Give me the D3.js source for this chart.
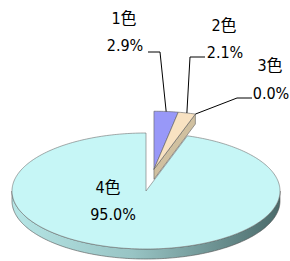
<!DOCTYPE html>
<html><head><meta charset="utf-8">
<script src="https://cdn.jsdelivr.net/npm/d3@7"></script>
<style>html,body{margin:0;padding:0;background:#fff;}svg{display:block;}</style>
</head><body>
<svg id="c" width="290" height="261"></svg>
<script>
const categories = ["1色", "2色", "3色", "4色"];
const values = [2.9, 2.1, 0.0, 95.0];
const valueLabels = ["2.9%", "2.1%", "0.0%", "95.0%"];
const exploded = [true, true, true, false];

const colors = ["#9898f8", "#f8e2c2", "#d0c0a0", "#c6f6f6"];
const svg = d3.select("#c");
const cx = 146, cy = 191, rx = 134, ry = 58, depth = 10, explode = 0.38;

const pie = d3.pie().sort(null).startAngle(0).endAngle(2 * Math.PI).value(d => d);
const arcs = pie(values);

const exAngles = arcs.filter((a, i) => exploded[i]);
const exMid = (exAngles[0].startAngle + exAngles[exAngles.length - 1].endAngle) / 2;
const ecx = cx + explode * rx * Math.sin(exMid);
const ecy = cy - explode * ry * Math.cos(exMid);

function pt(c, a, r = 1) { return [c[0] + rx * r * Math.sin(a), c[1] - ry * r * Math.cos(a)]; }
function arcPts(c, a0, a1, dy = 0) {
  const n = Math.max(2, Math.ceil(Math.abs(a1 - a0) / 0.02));
  return d3.range(n + 1).map(k => { const a = a0 + (a1 - a0) * k / n; const p = pt(c, a); return [p[0], p[1] + dy]; });
}
const line = d3.line();

const defs = svg.append("defs");
const g = defs.append("linearGradient").attr("id", "side").attr("x1", 0).attr("x2", 1).attr("y1", 0).attr("y2", 0);
g.append("stop").attr("offset", "0%").attr("stop-color", "#b6e6e6");
g.append("stop").attr("offset", "45%").attr("stop-color", "#98c4c4");
g.append("stop").attr("offset", "100%").attr("stop-color", "#4a6a6a");

const stroke = "#505050";

arcs.forEach((a, i) => {
  if (exploded[i]) return;
  const c = [cx, cy];
  const s = Math.max(a.startAngle, Math.PI / 2), e = Math.min(a.endAngle, 3 * Math.PI / 2);
  if (e > s) {
    const top = arcPts(c, s, e), bot = arcPts(c, e, s, depth);
    svg.append("path").attr("d", line(top.concat(bot)) + "Z").attr("fill", "url(#side)").attr("stroke", stroke).attr("stroke-width", 0.6);
  }
  const pts = [c].concat(arcPts(c, a.startAngle, a.endAngle));
  svg.append("path").attr("d", line(pts) + "Z").attr("fill", colors[i]).attr("stroke", "#707070").attr("stroke-width", 0.6);
});

const ec = [ecx, ecy];
const lastEx = exAngles[exAngles.length - 1];
{
  const p = pt(ec, lastEx.endAngle);
  const quad = [ec, p, [p[0], p[1] + depth], [ec[0], ec[1] + depth]];
  svg.append("path").attr("d", line(quad) + "Z").attr("fill", colors[2]).attr("stroke", "#606060").attr("stroke-width", 0.6);
}
arcs.forEach((a, i) => {
  if (!exploded[i] || a.endAngle - a.startAngle <= 0) return;
  const pts = [ec].concat(arcPts(ec, a.startAngle, a.endAngle));
  svg.append("path").attr("d", line(pts) + "Z").attr("fill", colors[i]).attr("stroke", "#606060").attr("stroke-width", 0.6);
});

const font = "'DejaVu Sans Condensed', 'DejaVu Sans', 'Noto Sans CJK JP', sans-serif";
const fs = 16;
const labelPos = [
  { n: [124, 18], v: [125, 45], leader: [[148, 52], [160, 52]] },
  { n: [224, 25], v: [225, 52], leader: [[205, 57], [190, 57]] },
  { n: [270, 65], v: [271, 93], leader: [[252, 98], [237, 98]] },
  { n: [108, 187], v: [113, 214], leader: null }
];
arcs.forEach((a, i) => {
  const L = labelPos[i];
  if (L.leader) {
    const c = exploded[i] ? ec : [cx, cy];
    const anchor = pt(c, (a.startAngle + a.endAngle) / 2);
    svg.append("path").attr("d", line(L.leader.concat([anchor]))).attr("fill", "none").attr("stroke", "#000").attr("stroke-width", 1);
  }
  svg.append("text").attr("x", L.n[0]).attr("y", L.n[1]).attr("text-anchor", "middle").attr("dominant-baseline", "central")
    .attr("font-family", font).attr("font-stretch", "condensed").attr("font-size", fs).text(categories[i]);
  svg.append("text").attr("x", L.v[0]).attr("y", L.v[1]).attr("text-anchor", "middle").attr("dominant-baseline", "central")
    .attr("font-family", font).attr("font-stretch", "condensed").attr("font-size", fs).text(valueLabels[i]);
});
</script>
</body></html>
